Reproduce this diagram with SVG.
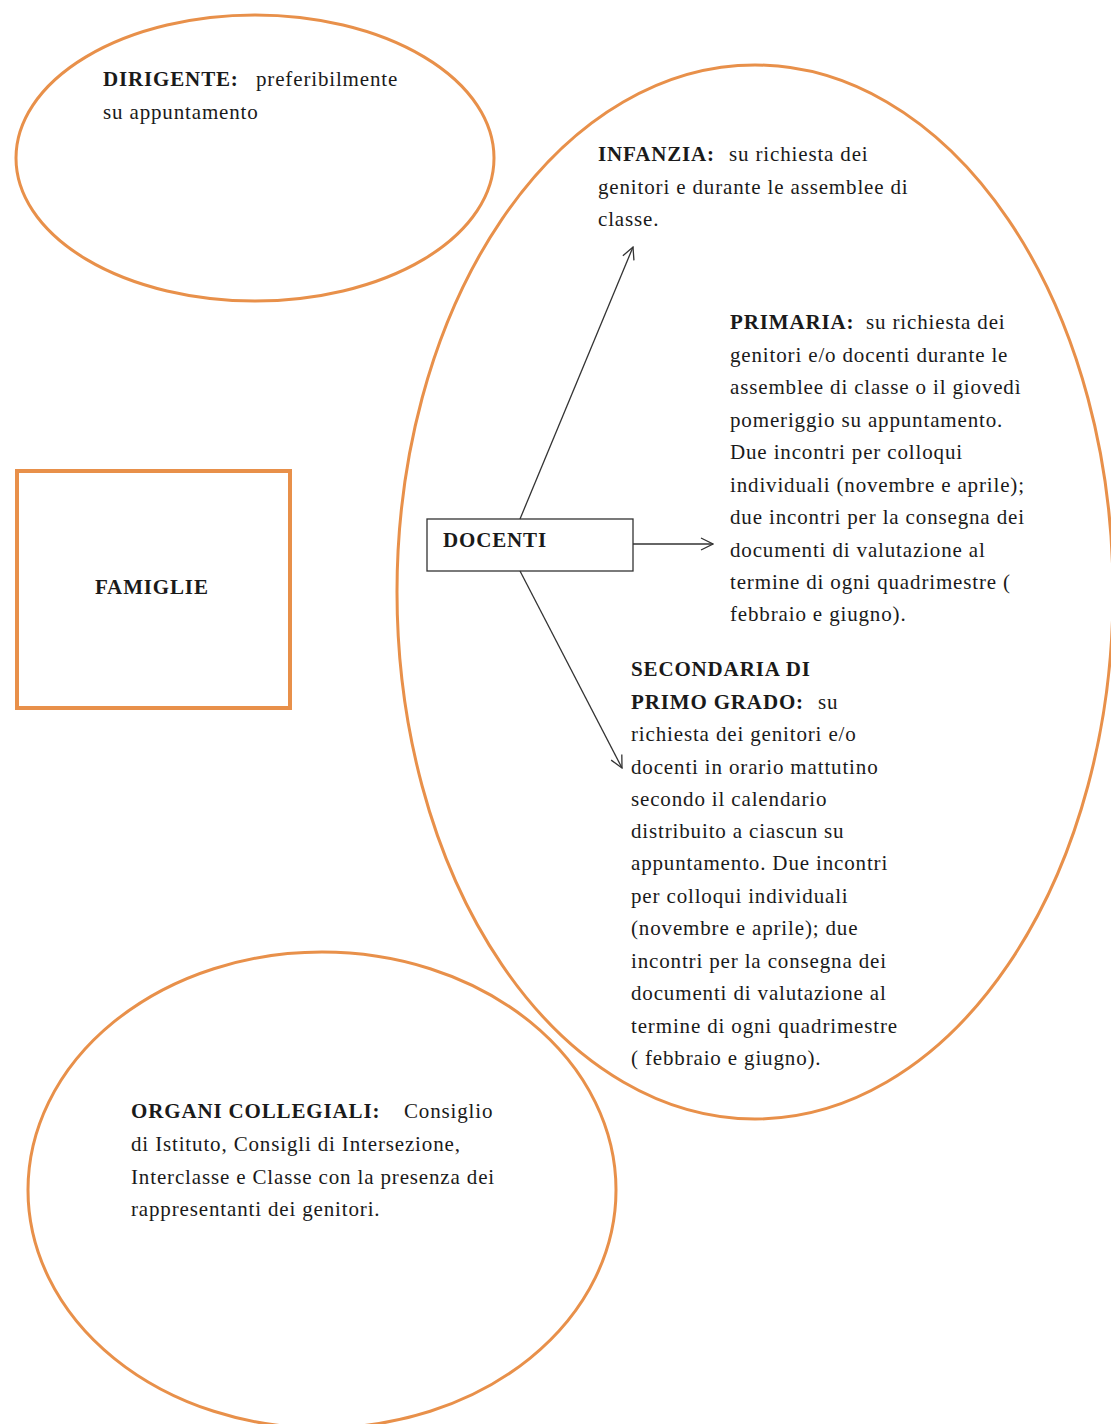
<svg xmlns="http://www.w3.org/2000/svg" width="1111" height="1424" viewBox="0 0 1111 1424">
<defs>
<style>
.shape{fill:none;stroke:#e8904a;stroke-width:3}
.box{fill:none;stroke:#e8904a;stroke-width:4}
.t{font-family:"Liberation Serif","Times New Roman",serif;font-size:21px;letter-spacing:0.85px;fill:#1a1a1a}
.b{font-weight:bold}
.conn{stroke:#333;stroke-width:1.3;fill:none}
</style>
<marker id="open" viewBox="0 0 14 14" refX="13" refY="7" markerWidth="14" markerHeight="14" markerUnits="userSpaceOnUse" orient="auto">
<path d="M1,1 L13,7 L1,13" fill="none" stroke="#333" stroke-width="1.3"/>
</marker>
</defs>
<rect width="1111" height="1424" fill="#ffffff"/>

<g id="dirigente">
<ellipse class="shape" cx="255" cy="158" rx="239" ry="143"/>
<text class="t" x="103" y="86"><tspan class="b">DIRIGENTE:</tspan><tspan x="256">preferibilmente</tspan></text>
<text class="t" x="103" y="119">su appuntamento</text>
</g>

<g id="docenti-area">
<ellipse class="shape" cx="755" cy="592" rx="358" ry="527"/>
</g>

<g id="infanzia">
<text class="t" x="598" y="161"><tspan class="b">INFANZIA:</tspan><tspan x="729">su richiesta dei</tspan></text>
<text class="t" x="598" y="194">genitori  e durante le assemblee di</text>
<text class="t" x="598" y="226">classe.</text>
</g>

<g id="primaria">
<text class="t" x="730" y="329"><tspan class="b">PRIMARIA:</tspan><tspan x="866">su richiesta dei</tspan></text>
<text class="t" x="730" y="362">genitori e/o docenti durante le</text>
<text class="t" x="730" y="394">assemblee di classe o il  giovedì</text>
<text class="t" x="730" y="427">pomeriggio  su appuntamento.</text>
<text class="t" x="730" y="459">Due incontri per colloqui</text>
<text class="t" x="730" y="492">individuali  (novembre e aprile);</text>
<text class="t" x="730" y="524">due incontri per la consegna dei</text>
<text class="t" x="730" y="557">documenti di valutazione al</text>
<text class="t" x="730" y="589">termine di ogni  quadrimestre (</text>
<text class="t" x="730" y="621">febbraio e giugno).</text>
</g>

<g id="secondaria">
<text class="t b" x="631" y="676">SECONDARIA DI</text>
<text class="t" x="631" y="709"><tspan class="b">PRIMO GRADO:</tspan><tspan x="818">su</tspan></text>
<text class="t" x="631" y="741">richiesta dei genitori  e/o</text>
<text class="t" x="631" y="774">docenti in  orario mattutino</text>
<text class="t" x="631" y="806">secondo il calendario</text>
<text class="t" x="631" y="838">distribuito a ciascun su</text>
<text class="t" x="631" y="870">appuntamento. Due incontri</text>
<text class="t" x="631" y="903">per colloqui individuali</text>
<text class="t" x="631" y="935">(novembre e aprile);  due</text>
<text class="t" x="631" y="968">incontri per la  consegna dei</text>
<text class="t" x="631" y="1000">documenti di  valutazione al</text>
<text class="t" x="631" y="1033">termine di ogni  quadrimestre</text>
<text class="t" x="631" y="1065">( febbraio e giugno).</text>
</g>

<g id="famiglie">
<rect class="box" x="17" y="471" width="273" height="237"/>
<text class="t b" x="95" y="594">FAMIGLIE</text>
</g>

<g id="docenti">
<rect x="427" y="519" width="206" height="52" fill="#ffffff" stroke="#333" stroke-width="1.3"/>
<text class="t b" x="443" y="547">DOCENTI</text>
</g>

<g id="organi">
<ellipse class="shape" cx="322" cy="1190" rx="294" ry="238"/>
<text class="t" x="131" y="1118"><tspan class="b">ORGANI  COLLEGIALI:</tspan><tspan x="404">Consiglio</tspan></text>
<text class="t" x="131" y="1151">di Istituto, Consigli  di Intersezione,</text>
<text class="t" x="131" y="1184">Interclasse e Classe con la presenza dei</text>
<text class="t" x="131" y="1216">rappresentanti dei  genitori.</text>
</g>

<g id="connectors">
<line class="conn" x1="520" y1="519" x2="633" y2="247" marker-end="url(#open)"/>
<line class="conn" x1="633" y1="544" x2="713" y2="544" marker-end="url(#open)"/>
<line class="conn" x1="520" y1="571" x2="622" y2="768" marker-end="url(#open)"/>
</g>
</svg>
